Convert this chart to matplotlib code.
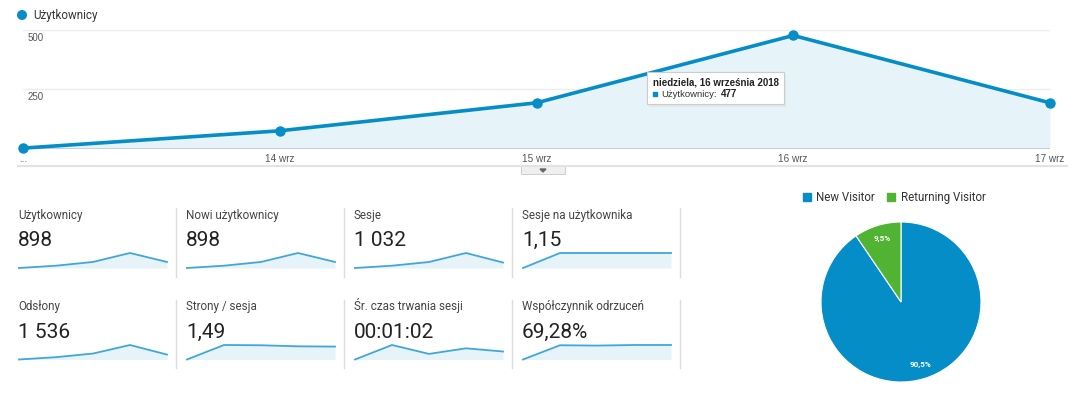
import matplotlib
matplotlib.use("Agg")
import matplotlib.pyplot as plt
from matplotlib.patches import Rectangle, Circle, Polygon

W, H = 1080, 393

# main chart data
days = ["...", "14 wrz", "15 wrz", "16 wrz", "17 wrz"]
users = [2, 75, 193, 477, 193]
y_ticks = [250, 500]

# summary tiles
tile_titles = ["Użytkownicy", "Nowi użytkownicy", "Sesje", "Sesje na użytkownika",
               "Odsłony", "Strony / sesja", "Śr. czas trwania sesji", "Współczynnik odrzuceń"]
tile_values = ["898", "898", "1 032", "1,15", "1 536", "1,49", "00:01:02", "69,28%"]
spark_users = [2, 75, 193, 477, 193]
spark_new_users = [2, 74, 190, 470, 190]
spark_sessions = [2, 84, 215, 535, 196]
spark_sess_per_user = [1.00, 1.15, 1.15, 1.15, 1.15]
spark_pageviews = [3, 130, 330, 800, 273]
spark_pages_per_sess = [1.00, 1.55, 1.54, 1.50, 1.49]
spark_avg_duration = [0, 96, 37, 74, 53]
spark_bounce = [40.0, 69.5, 68.8, 70.0, 70.0]
sparks = [spark_users, spark_new_users, spark_sessions, spark_sess_per_user,
          spark_pageviews, spark_pages_per_sess, spark_avg_duration, spark_bounce]

# pie
pie_labels = ["New Visitor", "Returning Visitor"]
pie_values = [90.5, 9.5]
pie_texts = ["90,5%", "9,5%"]

BLUE = "#058DC7"
GREEN = "#50B432"
FILL = "#E6F3F9"


def box(x0, y0, x1, y1):
    return [x0 / W, 1 - y1 / H, (x1 - x0) / W, (y1 - y0) / H]


fig = plt.figure(figsize=(W / 100, H / 100), dpi=100)
fig.patch.set_facecolor("white")

# main line chart
ax = fig.add_axes(box(23, 30, 1050, 148.6))
x = list(range(len(users)))
ax.fill_between(x, users, 0, color=FILL, lw=0)
ax.plot(x, users, color=BLUE, lw=2.6, marker="o", ms=6.5, clip_on=False, zorder=3)
ax.set_xlim(0, len(users) - 1)
ax.set_ylim(0, 500)
for s in ax.spines.values():
    s.set_visible(False)
for t in y_ticks:
    ax.axhline(t, color="#EDEDED", lw=1, zorder=0)
    ax.text(0.016, t - 12, str(t), fontsize=7, color="#555", family="Liberation Sans",
            va="top", ha="left")
ax.axhline(0, color="#444", lw=1, zorder=2)
ax.set_yticks([])
ax.set_xticks(x)
ax.set_xticklabels(days, fontsize=7.2, color="#555", family="Liberation Sans")
ax.tick_params(axis="x", length=0, pad=4)

# sparklines
cols = [19, 187, 355, 523]
rows = [(253, 268), (345, 359.5)]
for i, vals in enumerate(sparks):
    c = cols[i % 4]
    r = rows[i // 4]
    sa = fig.add_axes(box(c, r[0], c + 148, r[1]))
    lo, hi = min(vals), max(vals)
    sa.fill_between(range(len(vals)), vals, lo, color=FILL, lw=0)
    sa.plot(range(len(vals)), vals, color="#3FA7DA", lw=1.3, clip_on=False)
    sa.set_xlim(0, len(vals) - 1)
    sa.set_ylim(lo, hi)
    sa.axis("off")

# pie chart
pa = fig.add_axes(box(821, 222, 981, 382))
wedges, _ = pa.pie(pie_values, colors=[BLUE, GREEN], startangle=90, counterclock=False,
                   wedgeprops=dict(edgecolor="white", linewidth=0.8))
pa.set_xlim(-1, 1)
pa.set_ylim(-1, 1)
pa.set_aspect("equal")
pa.text(0.24, -0.78, pie_texts[0], color="white", fontsize=5.8, ha="center", va="center",
        family="Roboto", fontweight="bold")
pa.text(-0.24, 0.8, pie_texts[1], color="white", fontsize=5.8, ha="center", va="center",
        family="Roboto", fontweight="bold")

# overlay for labels and decorations
ov = fig.add_axes([0, 0, 1, 1], zorder=5)
ov.set_xlim(0, W)
ov.set_ylim(H, 0)
ov.axis("off")
ov.patch.set_alpha(0)

# top legend
ov.add_patch(Circle((22, 15), 4.3, color=BLUE))
ov.text(33, 19.5, "Użytkownicy", fontsize=8.4, color="#333", family="Roboto", va="baseline")

# bottom line with tab
ov.plot([18, 1067], [166, 166], color="#E3E3E3", lw=1.5)
ov.add_patch(Rectangle((521, 166), 44, 8, facecolor="#EFEFEF", edgecolor="#CFCFCF", lw=0.7))
ov.add_patch(Polygon([[540, 169], [546, 169], [543, 172]], color="#666"))

# tooltip
ov.add_patch(Rectangle((649, 73.5), 137, 33, facecolor="#E0E0E0", edgecolor="none", alpha=0.6))
ov.add_patch(Rectangle((647, 72), 137, 32, facecolor="white", edgecolor="#CCCCCC", lw=0.8))
ov.text(653, 85.5, "niedziela, 16 września 2018", fontsize=7, fontweight="bold",
        family="Liberation Sans", color="#222", va="baseline")
ov.add_patch(Rectangle((653, 92), 4, 4, color=BLUE))
ov.text(661, 96.8, "Użytkownicy:", fontsize=6.8, family="Liberation Sans",
        color="#333", va="baseline")
ov.text(721, 96.8, "477", fontsize=7, fontweight="bold", family="Liberation Sans",
        color="#222", va="baseline")

# tiles text and separators
text_x = [18, 186, 354, 522]
title_y = [219.5, 310]
value_y = [245.7, 337.7]
for i, (t, v) in enumerate(zip(tile_titles, tile_values)):
    c = text_x[i % 4]
    r = i // 4
    ov.text(c, title_y[r], t, fontsize=8.4, color="#444", family="Roboto", va="baseline")
    ov.text(c, value_y[r], v, fontsize=15, color="#222", family="Roboto", va="baseline")
for sx in [176, 344, 511.5, 679.5]:
    ov.plot([sx, sx], [208, 277], color="#DDDDDD", lw=1)
    ov.plot([sx, sx], [300, 368], color="#DDDDDD", lw=1)

# pie legend
ov.add_patch(Rectangle((803, 193), 8, 8, color=BLUE))
ov.text(816, 201.3, pie_labels[0], fontsize=8.3, color="#333", family="Roboto", va="baseline")
ov.add_patch(Rectangle((887, 193), 8, 8, color=GREEN))
ov.text(901, 201.3, pie_labels[1], fontsize=8.3, color="#333", family="Roboto", va="baseline")

fig.savefig("out.png", dpi=100, facecolor="white")
